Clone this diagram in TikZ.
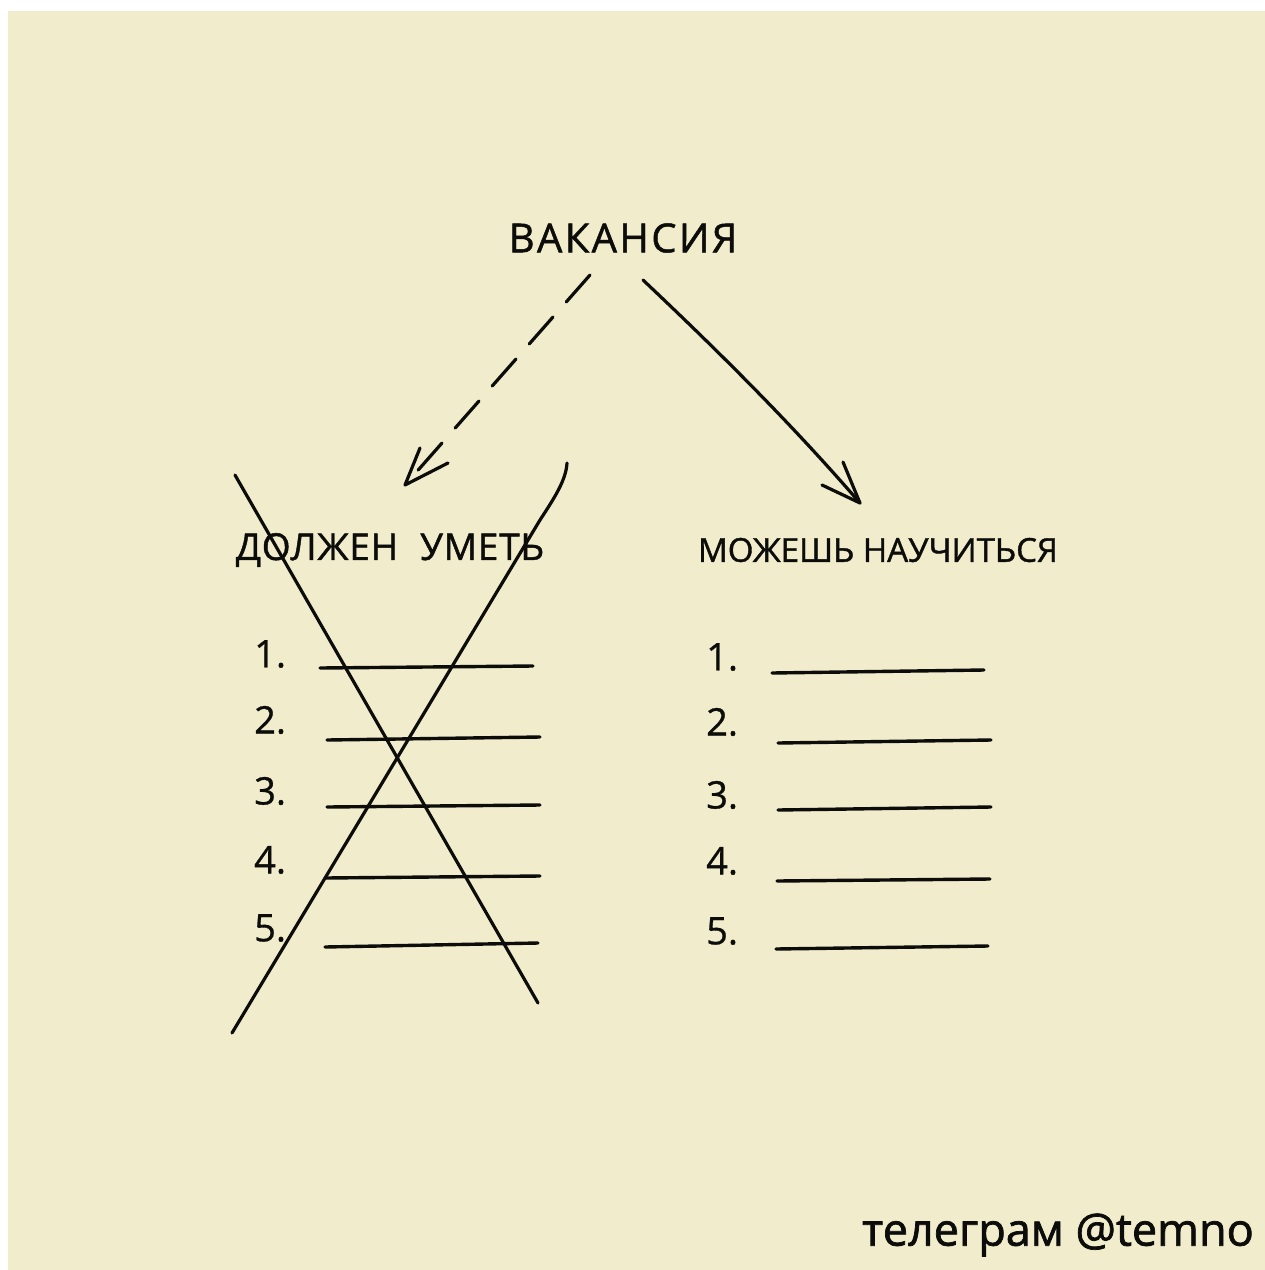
\documentclass[tikz,border=0pt]{standalone}
\usepackage{fontspec}
\setmainfont{Open Sans}
\definecolor{paper}{RGB}{241,236,204}
\definecolor{pen}{RGB}{12,12,10}
\begin{document}
\begin{tikzpicture}[x=1pt,y=-1pt,
  ink/.style={draw=pen, line width=3.2pt, line cap=round, line join=round},
  title/.style={inner sep=0pt, text=pen, font=\fontsize{40}{44}\selectfont\addfontfeature{LetterSpace=6,FakeBold=1.2}},
  head/.style={inner sep=0pt, text=pen, font=\fontsize{37}{40}\selectfont\addfontfeature{LetterSpace=2,FakeBold=1.2}},
  headb/.style={inner sep=0pt, text=pen, font=\fontsize{33}{36}\selectfont\addfontfeature{FakeBold=1.2}},
  num/.style={inner sep=0pt, anchor=west, text=pen, font=\fontsize{38}{40}\selectfont\addfontfeature{FakeBold=0.8}},
  blank/.style={ink, line width=3.4pt},
  sign/.style={inner sep=0pt, text=pen, font=\fontsize{45}{50}\selectfont\addfontfeature{FakeBold=1.6}}]
\useasboundingbox (0,0) rectangle (1265,1270);
\fill[white] (0,0) rectangle (1265,1270);
\fill[paper] (8,11) rectangle (1265,1270);

% headings
\node[title] (vac) at (623,238) {ВАКАНСИЯ};
\node[head] (must) at (390,550) {ДОЛЖЕН\hspace{22pt}УМЕТЬ};
\node[headb] (learn) at (878,550) {МОЖЕШЬ НАУЧИТЬСЯ};

% arrows from the vacancy
\coordinate (dstart) at (590,275);
\coordinate (dtip) at (405,485);
\draw[ink, dash pattern=on 36pt off 20pt] (dstart) -- (dtip);
\draw[ink] (420,448) -- (dtip) -- (448,463);

\coordinate (sstart) at (643,280);
\coordinate (stip) at (860,503);
\draw[ink] (sstart) .. controls (715,348) and (790,422) .. (stip);
\draw[ink] (843,462) -- (stip) -- (822,485);

% left list
\foreach \i/\ny/\ya/\yb/\xa/\xb in {1/654/668/666/320/533, 2/720/740/737/327/540, 3/791/807/805/327/540, 4/860/878/876/325/540, 5/928/947/943/325/538}{
  \node[num] (L\i) at (254,\ny) {\i.};
  \draw[blank] (\xa,\ya) -- (\xb,\yb);
}

% right list
\foreach \i/\ny/\ya/\yb/\xa/\xb in {1/657/673/670/772/984, 2/722/743/740/778/991, 3/795/810/807/778/991, 4/861/881/879/777/990, 5/931/949/946/776/988}{
  \node[num] (R\i) at (706,\ny) {\i.};
  \draw[blank] (\xa,\ya) -- (\xb,\yb);
}

% crossing out the left list
\draw[ink] (235,475) -- (538,1003);
\draw[ink] (567,463) .. controls (566,480) and (555,497) .. (540,520) -- (232,1033);

% signature
\node[sign] (tg) at (1058,1235) {телеграм @temno};
\end{tikzpicture}
\end{document}
